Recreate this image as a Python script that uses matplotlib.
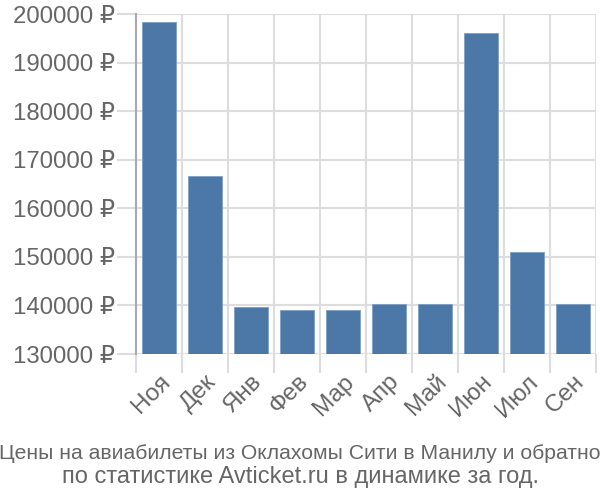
import matplotlib
matplotlib.use("Agg")
import matplotlib.pyplot as plt
from matplotlib import font_manager

months = ["Ноя", "Дек", "Янв", "Фев", "Мар", "Апр", "Май", "Июн", "Июл", "Сен"]
prices = [198350, 166650, 139600, 139050, 139050, 140250, 140250, 196100, 151100, 140250]
y_ticks = [130000, 140000, 150000, 160000, 170000, 180000, 190000, 200000]
title_1 = "Цены на авиабилеты из Оклахомы Сити в Манилу и обратно"
title_2 = "по статистике Avticket.ru в динамике за год."

plt.rcParams["font.family"] = ["Liberation Sans", "DejaVu Sans"]

names = {f.name for f in font_manager.fontManager.ttflist}
narrow = "Liberation Sans Narrow" in names

fig = plt.figure(figsize=(6, 5), dpi=100)
ax = fig.add_axes([0.2267, 0.292, 0.7666, 0.68])

x = list(range(len(months)))
ax.bar(x, [p - y_ticks[0] for p in prices], bottom=y_ticks[0], width=0.72,
       color="#4c78a8", edgecolor="#7f9fc4", linewidth=0.6, zorder=3)

ax.set_xlim(-0.5, len(months) - 0.5)
ax.set_ylim(y_ticks[0], y_ticks[-1])

# grid lines sit on category boundaries
ax.set_xticks([i - 0.5 for i in range(len(months) + 1)], minor=False)
ax.set_xticklabels([""] * (len(months) + 1))
ax.set_xticks(x, minor=True)
ax.set_xticklabels(months, minor=True, rotation=45, ha="right", va="top",
                   rotation_mode="anchor", fontsize=17.5, color="#666666")
ax.tick_params(axis="x", which="minor", length=0, pad=12)
ax.tick_params(axis="x", which="major", length=14, width=1.5, color="#dddddd")

ax.set_yticks(y_ticks)
ax.set_yticklabels([f"{v} ₽" for v in y_ticks], fontsize=17.3, color="#666666")
ax.tick_params(axis="y", length=14, width=1.5, color="#dddddd", pad=1)

ax.grid(True, color="#dddddd", linewidth=1.5, zorder=0)
for s in ["top", "right", "bottom"]:
    ax.spines[s].set_visible(False)
ax.spines["left"].set_color("#aaaaaa")
ax.spines["left"].set_linewidth(1.5)

if narrow:
    fig.text(0.5, 0.0826, title_1, ha="center", va="baseline", fontsize=18.3,
             color="#666666", family=["Liberation Sans Narrow", "DejaVu Sans"])
else:
    fig.text(0.5, 0.0826, title_1, ha="center", va="baseline", fontsize=15.2,
             color="#666666")
fig.text(0.5, 0.0346, title_2, ha="center", va="baseline", fontsize=17,
         color="#666666")

fig.savefig("out.png", dpi=100)
